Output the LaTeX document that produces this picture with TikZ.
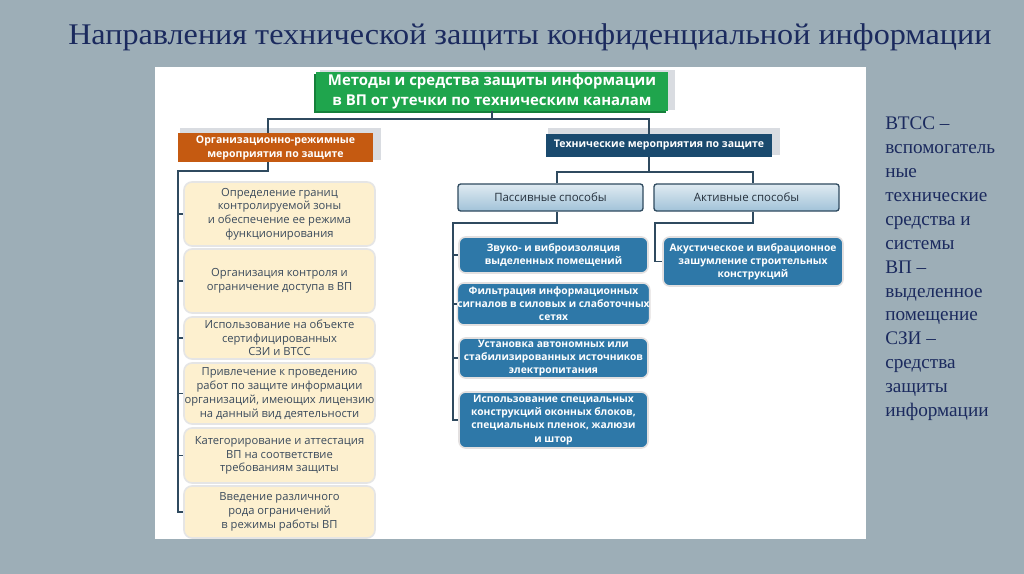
\documentclass[tikz,border=0pt]{standalone}
\usepackage{fontspec}
\setmainfont{Liberation Serif}
\newfontfamily\boxfont{Open Sans}
\definecolor{bgc}{HTML}{9DAEB7}
\definecolor{titlec}{HTML}{1B2A5E}
\definecolor{greenc}{HTML}{1FA54D}
\definecolor{greendk}{HTML}{15803A}
\definecolor{orangec}{HTML}{C55A11}
\definecolor{techc}{HTML}{1A4A6E}
\definecolor{bluec}{HTML}{2E78A8}
\definecolor{yellowc}{HTML}{FDF0CF}
\definecolor{ytext}{HTML}{3A4A5C}
\definecolor{wtext}{HTML}{25303C}
\definecolor{connc}{HTML}{2F4A5F}
\definecolor{shadowc}{HTML}{D9DCE1}
\newcommand\mybox[7]{\node[#2, minimum width={(#5-#3)*0.75pt}, minimum height={(#6-#4)*0.75pt}] (#1) at ({(#3+#5)/2},{(#4+#6)/2}) {#7};}
\tikzset{
  base/.style={inner sep=0pt, align=center},
  greenbox/.style={base, fill=greenc, text=white, font=\boxfont\bfseries\fontsize{11.2}{15.5}\selectfont},
  orgbox/.style={base, fill=orangec, text=white, font=\boxfont\bfseries\fontsize{7.9}{10.5}\selectfont},
  techbox/.style={base, fill=techc, text=white, font=\boxfont\bfseries\fontsize{7.9}{10}\selectfont},
  waybox/.style={base, top color=white!85!bluec, bottom color=white!55!bluec, draw=connc, line width=1pt, rounded corners=2pt, text=wtext, font=\boxfont\fontsize{8.6}{10.5}\selectfont},
  ybox/.style={base, fill=yellowc, draw=black!10, line width=1.2pt, rounded corners=6pt, text=ytext, font=\boxfont\fontsize{8.4}{10.3}\selectfont},
  bbox/.style={base, fill=bluec, draw=red!8!black!12, line width=1.2pt, rounded corners=5pt, text=white, font=\boxfont\bfseries\fontsize{7.7}{9.8}\selectfont},
  conn/.style={draw=connc, line width=1.1pt},
}
\begin{document}
\begin{tikzpicture}[x=0.75pt,y=-0.75pt]
\useasboundingbox (0,0) rectangle (1024,574);
\fill[bgc] (0,0) rectangle (1024,574);
\fill[white] (155,67) rectangle (866,539);
\node[text=titlec, font=\fontsize{22.5}{27}\selectfont, anchor=base west, inner sep=0pt] (title) at (68,44.5) {\scalebox{1.072}[1]{Направления технической защиты конфиденциальной информации}};

% shadows
\fill[shadowc] (320,70) rectangle (675,110);
\fill[shadowc] (180,128) rectangle (381,160);
\fill[shadowc] (548,128) rectangle (780,155);
\fill[greendk] (314,74) rectangle (666,113);

\mybox{green}{greenbox}{316}{72}{668}{111}{Методы и средства защиты информации\\в ВП от утечки по техническим каналам}
\mybox{org}{orgbox}{178}{133}{373}{162}{Организационно-режимные\\мероприятия по защите}
\mybox{tech}{techbox}{546}{134}{772}{157}{Технические мероприятия по защите}
\mybox{pas}{waybox}{458}{184}{643}{211}{Пассивные способы}
\mybox{act}{waybox}{654}{184}{839}{211}{Активные способы}

\mybox{y1}{ybox}{184}{182}{375}{246}{Определение границ\\контролируемой зоны\\и обеспечение ее режима\\функционирования}
\mybox{y2}{ybox}{184}{249}{375}{313}{Организация контроля и\\ограничение доступа в ВП}
\mybox{y3}{ybox}{184}{317}{375}{359}{Использование на объекте\\сертифицированных\\СЗИ и ВТСС}
\mybox{y4}{ybox}{184}{363}{375}{424}{Привлечение к проведению\\работ по защите информации\\организаций, имеющих лицензию\\на данный вид деятельности}
\mybox{y5}{ybox}{184}{428}{375}{483}{Категорирование и аттестация\\ВП на соответствие\\требованиям защиты}
\mybox{y6}{ybox}{184}{486}{375}{538}{Введение различного\\рода ограничений\\в режимы работы ВП}

\mybox{p1}{bbox}{459}{237}{648}{273}{Звуко- и виброизоляция\\выделенных помещений}
\mybox{p2}{bbox}{459}{283}{648}{325}{Фильтрация информационных\\сигналов в силовых и слаботочных\\сетях}
\mybox{p3}{bbox}{459}{338}{648}{378}{Установка автономных или\\стабилизированных источников\\электропитания}
\mybox{p4}{bbox}{459}{392}{648}{448}{Использование специальных\\конструкций оконных блоков,\\специальных пленок, жалюзи\\и штор}
\mybox{a1}{bbox}{663}{237}{843}{286}{Акустическое и вибрационное\\зашумление строительных\\конструкций}

% connectors
\draw[conn] (green.south) -- (492,119);
\draw[conn] (268,0 |- org.north) -- (268,119) -- (649,119) -- (649,0 |- tech.north);
\draw[conn] (268,0 |- org.south) -- (268,171) -- (178,171) |- (y6.west);
\foreach \n in {y1,y2,y3,y4,y5} \draw[conn] (178,0 |- \n.west) -- (\n.west);
\draw[conn] (649,0 |- tech.south) -- (649,172);
\draw[conn] (557,0 |- pas.north) -- (557,172) -- (753,172) -- (753,0 |- act.north);
\draw[conn] (557,0 |- pas.south) -- (557,223) -- (453,223) |- (p4.west);
\foreach \n in {p1,p2,p3} \draw[conn] (453,0 |- \n.west) -- (\n.west);
\draw[conn] (753,0 |- act.south) -- (753,223) -- (655,223) |- (a1.west);

\node[anchor=north west, inner sep=0pt, align=left, text=titlec, font=\fontsize{14.4}{17.9}\selectfont] (legend) at (885,117) {ВТСС –\\вспомогатель\\ные\\технические\\средства и\\системы\\ВП –\\выделенное\\помещение\\СЗИ –\\средства\\защиты\\информации};
\end{tikzpicture}
\end{document}
